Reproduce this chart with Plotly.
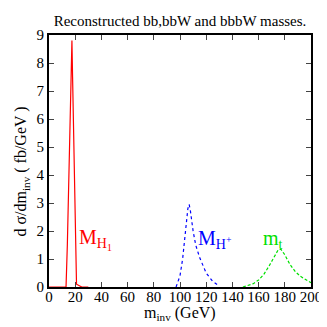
import plotly.graph_objects as go

red_x = [0, 5, 10, 13, 14, 15, 16, 17, 17.5, 18, 19, 20, 21, 25, 30]
red_y = [0, 0, 0, 0, 1.5, 3.8, 6.0, 8.2, 8.8, 7.5, 4.5, 1.5, 0.1, 0, 0]

blue_x = [97, 100, 102, 104, 105, 106, 107, 108, 110, 112, 115, 118, 120, 125, 130]
blue_y = [0, 0.4, 1.0, 1.8, 2.3, 2.8, 2.95, 2.7, 2.0, 1.5, 1.05, 0.7, 0.5, 0.2, 0.03]

green_x = [148, 152, 156, 160, 164, 168, 172, 175, 177, 180, 184, 188, 192, 196, 200]
green_y = [0, 0.05, 0.12, 0.25, 0.45, 0.75, 1.1, 1.33, 1.35, 1.15, 0.8, 0.55, 0.38, 0.25, 0.15]

x_ticks = [0, 20, 40, 60, 80, 100, 120, 140, 160, 180, 200]
y_ticks = [0, 1, 2, 3, 4, 5, 6, 7, 8, 9]

serif = "Liberation Serif, Times New Roman, serif"

fig = go.Figure()
fig.add_trace(go.Scatter(x=red_x, y=red_y, mode="lines",
                         line=dict(color="#ff0000", width=1.2)))
fig.add_trace(go.Scatter(x=blue_x, y=blue_y, mode="lines",
                         line=dict(color="#0000ff", width=1.2, dash="dot")))
fig.add_trace(go.Scatter(x=green_x, y=green_y, mode="lines",
                         line=dict(color="#00e000", width=1.2, dash="3px,2px")))

fig.add_annotation(x=21, y=1.7, text="M<sub>H<sub>1</sub></sub>", showarrow=False,
                   xanchor="left", font=dict(family=serif, size=20, color="#ff0000"))
fig.add_annotation(x=112, y=1.7, text="M<sub>H<sup>+</sup></sub>", showarrow=False,
                   xanchor="left", font=dict(family=serif, size=20, color="#0000ff"))
fig.add_annotation(x=162, y=1.7, text="m<sub>t</sub>", showarrow=False,
                   xanchor="left", font=dict(family=serif, size=20, color="#00e000"))

# axis titles
fig.add_annotation(xref="paper", yref="paper", x=0.5, y=-0.058, yanchor="top",
                   text="m<sub>inv</sub> (GeV)", showarrow=False,
                   font=dict(family=serif, size=16, color="black"))
fig.add_annotation(xref="paper", yref="paper", x=-0.105, y=0.46, xanchor="center",
                   textangle=-90, text="d σ/dm<sub>inv</sub> ( fb/GeV )", showarrow=False,
                   font=dict(family=serif, size=16, color="black"))

# page body has an 8px margin: figure is 319x319 placed at (8, 8)
fig.update_layout(
    width=319, height=319,
    margin=dict(l=41, r=16, t=27, b=40, autoexpand=False),
    paper_bgcolor="white", plot_bgcolor="white",
    showlegend=False,
    title=dict(text="Reconstructed bb,bbW and bbbW masses.", x=0.5, xanchor="center",
               xref="paper",
               y=1 - 13 / 319, yanchor="middle",
               font=dict(family=serif, size=15, color="black")),
    font=dict(family=serif, color="black", size=14),
)
fig.update_xaxes(range=[0, 200], tickvals=x_ticks, ticks="inside", ticklen=5,
                 showline=True, linecolor="black", linewidth=2, mirror="ticks",
                 showgrid=False, zeroline=False, automargin=False,
                 ticklabelstandoff=-5,
                 tickfont=dict(size=15, family=serif, color="black"))
fig.update_yaxes(range=[0, 9], tickvals=y_ticks, ticks="inside", ticklen=5,
                 showline=True, linecolor="black", linewidth=2, mirror="ticks",
                 showgrid=False, zeroline=False, automargin=False,
                 tickfont=dict(size=15, family=serif, color="black"))

fig.write_html("out.html")
